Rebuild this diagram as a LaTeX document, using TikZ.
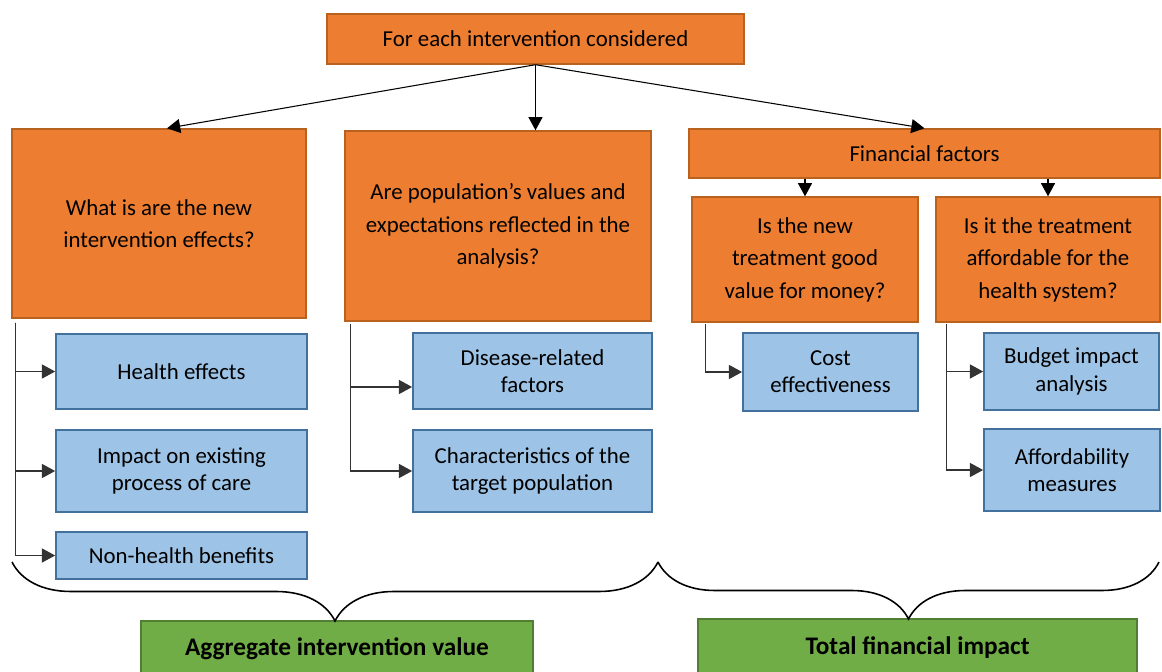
\documentclass[tikz,border=0pt]{standalone}
\usepackage{fontspec}
\setmainfont{Carlito}
\usetikzlibrary{arrows.meta,decorations.pathreplacing}

\definecolor{boxorange}{HTML}{ED7D31}
\definecolor{lineorange}{HTML}{B9621F}
\definecolor{boxblue}{HTML}{9DC3E6}
\definecolor{lineblue}{HTML}{41719C}
\definecolor{boxgreen}{HTML}{70AD47}
\definecolor{linegreen}{HTML}{507E32}

\begin{document}
\begin{tikzpicture}[x=0.02cm, y=-0.02cm,
    question/.style={draw=lineorange, fill=boxorange, line width=0.8pt, align=center, font=\fontsize{13}{18.5}\selectfont},
    factor/.style={draw=lineblue, fill=boxblue, line width=1pt, align=center, font=\fontsize{13}{15.5}\selectfont},
    result/.style={draw=linegreen, fill=boxgreen, line width=1pt, align=center, font=\fontsize{14.4}{16}\selectfont\bfseries},
    arr/.style={-{Triangle[length=7.5pt,width=8pt]}, line width=0.6pt},
    branch/.style={-{Triangle[length=7.5pt,width=8pt]}, line width=0.6pt, black!80},
    bracket/.style={decorate, decoration={brace, mirror, amplitude=#1}, line width=0.9pt}]
    % one pixel of the sketch
    \def \u {0.02cm}

    \useasboundingbox (0,0) rectangle (1162,672);
    \clip (0,0) rectangle (1162,672);

    %Top
    \node[question, minimum width=417*\u, minimum height=50*\u] (each) at (535.5,39) {For each intervention considered};

    %Left question
    \node[question, minimum width=294*\u, minimum height=189*\u] (effects) at (159,223.5) {What is are the new\\intervention effects?};
    %Middle question
    \node[question, minimum width=306*\u, minimum height=190*\u] (values) at (498,226) {Are population’s values and\\expectations reflected in the\\analysis?};
    %Right questions
    \node[question, minimum width=471*\u, minimum height=49*\u] (finance) at (924.5,153.5) {Financial factors};
    \node[question, minimum width=226*\u, minimum height=125*\u] (money) at (805,259.5) {Is the new\\treatment good\\value for money?};
    \node[question, minimum width=224*\u, minimum height=125*\u] (afford) at (1048,259.5) {Is it the treatment\\affordable for the\\health system?};

    \draw[arr] (each.south) -- ([xshift=0.16cm]effects.north);
    \draw[arr] (each.south) -- (each.south |- values.north);
    \draw[arr] (each.south) -- (finance.north);
    \draw[arr] (money.north |- finance.south) -- (money.north);
    \draw[arr] (afford.north |- finance.south) -- (afford.north);

    %Left factors
    \node[factor, minimum width=251*\u, minimum height=75*\u] (health) at (181.5,371.5) {Health effects};
    \node[factor, minimum width=251*\u, minimum height=82*\u] (process) at (181.5,471) {Impact on existing\\process of care};
    \node[factor, minimum width=251*\u, minimum height=47*\u] (nonhealth) at (181.5,555.5) {Non-health benefits};

    \coordinate (effroot) at ([xshift=0.08cm,yshift=-0.08cm]effects.south west);
    \draw[branch] (effroot) |- (health.west);
    \draw[branch] (effroot) |- (process.west);
    \draw[branch] (effroot) |- (nonhealth.west);

    %Middle factors
    \node[factor, minimum width=239*\u, minimum height=76*\u] (disease) at (532.5,371) {Disease-related\\factors};
    \node[factor, minimum width=239*\u, minimum height=82*\u] (target) at (532.5,471) {Characteristics of the\\target population};

    \coordinate (valroot) at ([xshift=0.12cm,yshift=-0.04cm]values.south west);
    \draw[branch] (valroot) |- ([yshift=-0.32cm]disease.west);
    \draw[branch] (valroot) |- (target.west);

    %Right factors
    \node[factor, minimum width=175*\u, minimum height=78*\u] (cost) at (830.5,372) {Cost\\effectiveness};
    \node[factor, minimum width=175*\u, minimum height=77*\u] (budget) at (1071.5,371.5) {Budget impact\\analysis};
    \node[factor, minimum width=176*\u, minimum height=82*\u] (measures) at (1072,470) {Affordability\\measures};

    \coordinate (moneyroot) at ([xshift=0.28cm,yshift=-0.02cm]money.south west);
    \draw[branch] (moneyroot) |- (cost.west);
    \coordinate (affordroot) at ([xshift=0.22cm,yshift=-0.02cm]afford.south west);
    \draw[branch] (affordroot) |- (budget.west);
    \draw[branch] (affordroot) |- (measures.west);

    %Bottom
    \node[result, minimum width=392*\u, minimum height=55*\u] (aggregate) at (337,648.5) {Aggregate intervention value};
    \node[result, minimum width=439*\u, minimum height=57*\u] (total) at (917.5,647.5) {Total financial impact};

    \coordinate (leftend) at (12,562);
    \coordinate (midend) at (658,562);
    \coordinate (rightend) at (1159,562);
    \draw[bracket=1.18cm] (leftend) -- (midend);
    \draw[bracket=1.14cm] (midend) -- (rightend);
\end{tikzpicture}
\end{document}
